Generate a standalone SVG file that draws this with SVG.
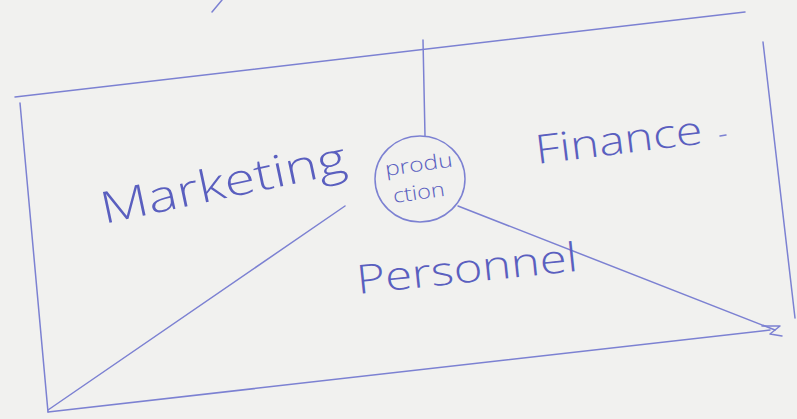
<svg xmlns="http://www.w3.org/2000/svg" width="797" height="419" viewBox="0 0 797 419">
<style>
.ink{fill:none;stroke:#7c81d2;stroke-width:1.5;stroke-linecap:round;stroke-linejoin:round}
.lbl{font-family:"Open Sans","Liberation Sans",Arial,sans-serif;font-weight:300;fill:#5a5fbf}
</style>
<rect width="797" height="419" fill="#f1f1ef"/>
<g id="frame">
<path class="ink" d="M15,97 L745,12"/>
<path class="ink" d="M20,103 L48,412"/>
<path class="ink" d="M48,412 L770,330"/>
<path class="ink" d="M763,42 L795,318"/>
<path class="ink" d="M212,12 L222,0"/>
</g>
<g id="connectors">
<path class="ink" d="M423,40 L425,136"/>
<path class="ink" d="M345,206 L48,410"/>
<path class="ink" d="M458,206 L775,330"/>
<path class="ink" d="M762,326 L780,326 L770,334 L782,336"/>
</g>
<g id="production">
<ellipse class="ink" cx="420" cy="179" rx="45" ry="43"/>
<text class="lbl" x="386" y="176" font-size="20" textLength="68" lengthAdjust="spacingAndGlyphs" transform="rotate(-8 386 176)">produ</text>
<text class="lbl" x="394" y="203" font-size="20" textLength="52" lengthAdjust="spacingAndGlyphs" transform="rotate(-8 394 203)">ction</text>
</g>
<g id="marketing">
<text class="lbl" x="104" y="224" font-size="44" textLength="250" lengthAdjust="spacingAndGlyphs" transform="rotate(-12 104 224)">Marketing</text>
</g>
<g id="finance">
<text class="lbl" x="537" y="164" font-size="40" textLength="168" lengthAdjust="spacingAndGlyphs" transform="rotate(-7 537 164)">Finance</text>
<path class="ink" d="M720,136 L726,135"/>
</g>
<g id="personnel">
<text class="lbl" x="358" y="294" font-size="40" textLength="222" lengthAdjust="spacingAndGlyphs" transform="rotate(-6 358 294)">Personnel</text>
</g>
</svg>
